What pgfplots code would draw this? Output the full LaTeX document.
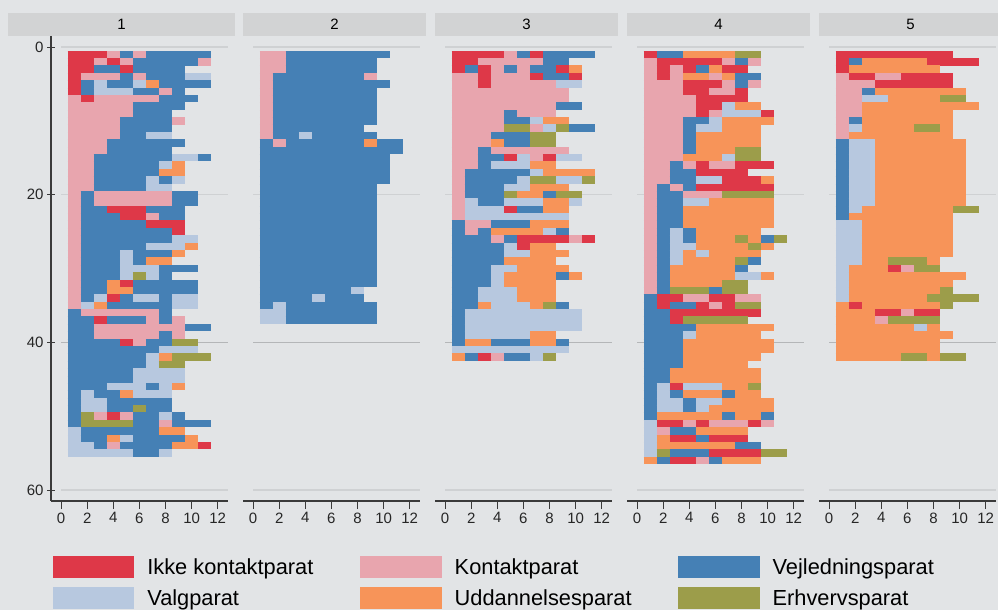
\documentclass[border=0pt]{standalone}
\usepackage{pgfplots}
\usepackage{pgfplotstable}
\usepackage{fontspec}
\setmainfont{Liberation Sans}
\pgfplotsset{compat=1.18}
\definecolor{bgc}{HTML}{E2E4E6}
\definecolor{stripc}{HTML}{D2D3D4}
\definecolor{cI}{HTML}{DE3848}
\definecolor{cK}{HTML}{E8A5AE}
\definecolor{cV}{HTML}{4580B5}
\definecolor{cA}{HTML}{B7C8DF}
\definecolor{cU}{HTML}{F79459}
\definecolor{cE}{HTML}{9C9D4A}
\definecolor{axc}{HTML}{3A3A3A}
\definecolor{gridc}{HTML}{CFD1D3}
\definecolor{gridd}{HTML}{B4B6B8}
\pgfplotstableread[row sep=\\]{
y x u s\\
1 0.5 3 0\\1 3.5 1 1\\1 4.5 1 2\\1 5.5 1 1\\1 6.5 5 2\\
2 0.5 2 0\\2 2.5 1 1\\2 3.5 1 0\\2 4.5 1 1\\2 5.5 5 2\\2 10.5 1 1\\
3 0.5 2 0\\3 2.5 2 2\\3 4.5 1 0\\3 5.5 4 2\\
4 0.5 1 0\\4 1.5 3 1\\4 4.5 1 2\\4 5.5 1 1\\4 6.5 3 2\\4 9.5 2 3\\
5 0.5 1 0\\5 1.5 1 2\\5 2.5 1 3\\5 3.5 2 2\\5 5.5 1 3\\5 6.5 1 4\\5 7.5 4 2\\
6 0.5 1 0\\6 1.5 1 2\\6 2.5 3 3\\6 5.5 2 2\\6 7.5 1 1\\6 8.5 1 2\\
7 0.5 1 1\\7 1.5 1 0\\7 2.5 5 1\\7 7.5 3 2\\
8 0.5 5 1\\8 5.5 4 2\\
9 0.5 5 1\\9 5.5 3 2\\
10 0.5 4 1\\10 4.5 4 2\\10 8.5 1 1\\
11 0.5 4 1\\11 4.5 4 2\\
12 0.5 4 1\\12 4.5 2 2\\12 6.5 2 3\\
13 0.5 3 1\\13 3.5 6 2\\
14 0.5 3 1\\14 3.5 5 2\\
15 0.5 2 1\\15 2.5 6 2\\15 8.5 2 3\\15 10.5 1 2\\
16 0.5 2 1\\16 2.5 5 2\\16 7.5 1 3\\16 8.5 1 4\\
17 0.5 2 1\\17 2.5 5 2\\17 7.5 2 4\\
18 0.5 2 1\\18 2.5 4 2\\18 6.5 1 3\\18 7.5 1 2\\18 8.5 1 3\\
19 0.5 2 1\\19 2.5 4 2\\19 6.5 2 3\\
20 0.5 1 1\\20 1.5 1 2\\20 2.5 6 1\\20 8.5 2 2\\
21 0.5 1 1\\21 1.5 1 2\\21 2.5 6 1\\21 8.5 2 2\\
22 0.5 1 1\\22 1.5 2 2\\22 3.5 3 0\\22 6.5 3 2\\
23 0.5 1 1\\23 1.5 3 2\\23 4.5 2 0\\23 6.5 1 1\\23 7.5 2 2\\
24 0.5 1 1\\24 1.5 5 2\\24 6.5 3 0\\
25 0.5 1 1\\25 1.5 7 2\\25 8.5 1 0\\
26 0.5 1 1\\26 1.5 7 2\\26 8.5 2 3\\
27 0.5 1 1\\27 1.5 5 2\\27 6.5 3 3\\27 9.5 1 4\\
28 0.5 1 1\\28 1.5 3 2\\28 4.5 1 3\\28 5.5 3 2\\28 8.5 1 4\\
29 0.5 1 1\\29 1.5 3 2\\29 4.5 1 3\\29 5.5 1 2\\29 6.5 2 4\\
30 0.5 1 1\\30 1.5 3 2\\30 4.5 3 3\\30 7.5 3 2\\
31 0.5 1 1\\31 1.5 3 2\\31 4.5 1 3\\31 5.5 1 5\\31 6.5 1 3\\31 7.5 1 2\\
32 0.5 1 1\\32 1.5 2 2\\32 3.5 1 4\\32 4.5 1 0\\32 5.5 5 2\\
33 0.5 1 1\\33 1.5 2 2\\33 3.5 2 4\\33 5.5 5 2\\
34 0.5 1 1\\34 1.5 1 2\\34 2.5 1 3\\34 3.5 1 0\\34 4.5 1 2\\34 5.5 2 3\\34 7.5 1 2\\34 8.5 2 3\\
35 0.5 1 1\\35 1.5 1 3\\35 2.5 1 4\\35 3.5 5 2\\35 8.5 2 3\\
36 0.5 1 2\\36 1.5 6 1\\36 7.5 1 2\\
37 0.5 2 2\\37 2.5 1 0\\37 3.5 3 2\\37 6.5 1 1\\37 7.5 1 2\\37 8.5 1 1\\
38 0.5 2 2\\38 2.5 7 1\\38 9.5 2 2\\
39 0.5 2 2\\39 2.5 5 1\\39 7.5 1 2\\39 8.5 1 1\\
40 0.5 4 2\\40 4.5 1 0\\40 5.5 1 1\\40 6.5 2 2\\40 8.5 2 5\\
41 0.5 7 2\\41 7.5 3 3\\
42 0.5 6 2\\42 6.5 1 3\\42 7.5 1 4\\42 8.5 3 5\\
43 0.5 6 2\\43 6.5 1 3\\43 7.5 2 5\\
44 0.5 5 2\\44 5.5 4 3\\
45 0.5 5 2\\45 5.5 4 3\\
46 0.5 3 2\\46 3.5 3 3\\46 6.5 1 2\\46 7.5 1 3\\46 8.5 1 4\\
47 0.5 1 2\\47 1.5 1 3\\47 2.5 2 2\\47 4.5 1 4\\47 5.5 3 3\\
48 0.5 1 2\\48 1.5 2 3\\48 3.5 5 2\\
49 0.5 1 2\\49 1.5 2 3\\49 3.5 2 2\\49 5.5 1 5\\49 6.5 2 2\\
50 0.5 1 2\\50 1.5 1 5\\50 2.5 1 1\\50 3.5 1 0\\50 4.5 1 1\\50 5.5 2 2\\50 7.5 1 3\\50 8.5 1 2\\
51 0.5 1 2\\51 1.5 4 5\\51 5.5 2 2\\51 7.5 1 1\\51 8.5 3 2\\
52 0.5 1 3\\52 1.5 6 2\\52 7.5 2 4\\
53 0.5 1 3\\53 1.5 2 2\\53 3.5 1 4\\53 4.5 1 3\\53 5.5 4 2\\53 9.5 1 4\\
54 0.5 2 3\\54 2.5 1 2\\54 3.5 1 1\\54 4.5 4 2\\54 8.5 2 4\\54 10.5 1 0\\
55 0.5 5 3\\55 5.5 2 2\\55 7.5 1 3\\
}\tabA
\pgfplotstableread[row sep=\\]{
y x u s\\
1 0.5 2 1\\1 2.5 8 2\\
2 0.5 2 1\\2 2.5 7 2\\
3 0.5 2 1\\3 2.5 7 2\\
4 0.5 1 1\\4 1.5 7 2\\4 8.5 1 1\\
5 0.5 1 1\\5 1.5 9 2\\
6 0.5 1 1\\6 1.5 8 2\\
7 0.5 1 1\\7 1.5 8 2\\
8 0.5 1 1\\8 1.5 8 2\\
9 0.5 1 1\\9 1.5 8 2\\
10 0.5 1 1\\10 1.5 8 2\\
11 0.5 1 1\\11 1.5 7 2\\
12 0.5 1 1\\12 1.5 2 2\\12 3.5 1 3\\12 4.5 5 2\\
13 0.5 1 2\\13 1.5 1 1\\13 2.5 6 2\\13 8.5 1 4\\13 9.5 2 2\\
14 0.5 11 2\\
15 0.5 10 2\\16 0.5 10 2\\17 0.5 10 2\\18 0.5 10 2\\
19 0.5 9 2\\20 0.5 9 2\\21 0.5 9 2\\22 0.5 9 2\\23 0.5 9 2\\24 0.5 9 2\\25 0.5 9 2\\26 0.5 9 2\\27 0.5 9 2\\28 0.5 9 2\\29 0.5 9 2\\30 0.5 9 2\\31 0.5 9 2\\32 0.5 9 2\\
33 0.5 7 2\\33 7.5 1 3\\
34 0.5 4 2\\34 4.5 1 3\\34 5.5 3 2\\
35 0.5 1 2\\35 1.5 1 3\\35 2.5 7 2\\
36 0.5 2 3\\36 2.5 7 2\\
37 0.5 2 3\\37 2.5 7 2\\
}\tabB
\pgfplotstableread[row sep=\\]{
y x u s\\
1 0.5 4 0\\1 4.5 1 1\\1 5.5 1 2\\1 6.5 1 0\\1 7.5 4 2\\
2 0.5 2 0\\2 2.5 5 1\\2 7.5 2 2\\
3 0.5 1 0\\3 1.5 1 2\\3 2.5 1 0\\3 3.5 1 1\\3 4.5 1 2\\3 5.5 1 1\\3 6.5 2 2\\3 8.5 1 0\\3 9.5 1 4\\
4 0.5 2 1\\4 2.5 1 0\\4 3.5 3 1\\4 6.5 1 0\\4 7.5 2 2\\4 9.5 1 0\\
5 0.5 2 1\\5 2.5 1 0\\5 3.5 5 1\\5 8.5 2 3\\
6 0.5 9 1\\
7 0.5 9 1\\
8 0.5 8 1\\8 8.5 2 2\\
9 0.5 4 1\\9 4.5 1 2\\9 5.5 3 1\\
10 0.5 4 1\\10 4.5 2 2\\10 6.5 1 3\\10 7.5 2 4\\
11 0.5 4 1\\11 4.5 2 5\\11 6.5 1 1\\11 7.5 1 3\\11 8.5 1 5\\11 9.5 2 2\\
12 0.5 3 1\\12 3.5 3 2\\12 6.5 2 5\\
13 0.5 3 1\\13 3.5 1 4\\13 4.5 2 2\\13 6.5 2 5\\
14 0.5 2 1\\14 2.5 1 2\\14 3.5 6 1\\
15 0.5 2 1\\15 2.5 2 2\\15 4.5 1 0\\15 5.5 1 3\\15 6.5 1 1\\15 7.5 1 0\\15 8.5 2 3\\
16 0.5 2 1\\16 2.5 1 2\\16 3.5 3 3\\16 6.5 2 4\\
17 0.5 1 1\\17 1.5 5 2\\17 6.5 1 3\\17 7.5 4 4\\
18 0.5 1 1\\18 1.5 4 2\\18 5.5 1 3\\18 6.5 2 5\\18 8.5 2 3\\18 10.5 1 5\\
19 0.5 1 1\\19 1.5 3 2\\19 4.5 2 3\\19 6.5 3 4\\
20 0.5 1 1\\20 1.5 3 2\\20 4.5 1 5\\20 5.5 2 4\\20 7.5 1 2\\20 8.5 2 5\\
21 0.5 1 1\\21 1.5 1 3\\21 2.5 2 2\\21 4.5 3 3\\21 7.5 2 4\\21 9.5 1 3\\
22 0.5 1 1\\22 1.5 3 3\\22 4.5 1 0\\22 5.5 2 2\\22 7.5 2 4\\
23 0.5 1 1\\23 1.5 8 3\\
24 0.5 1 2\\24 1.5 2 1\\24 3.5 3 2\\24 6.5 3 4\\
25 0.5 1 2\\25 1.5 1 1\\25 2.5 1 2\\25 3.5 4 4\\25 7.5 1 3\\25 8.5 1 2\\
26 0.5 3 2\\26 3.5 1 1\\26 4.5 1 2\\26 5.5 4 0\\26 9.5 1 1\\26 10.5 1 0\\
27 0.5 4 2\\27 4.5 1 3\\27 5.5 1 0\\27 6.5 2 4\\
28 0.5 4 2\\28 4.5 2 3\\28 6.5 3 4\\
29 0.5 4 2\\29 4.5 4 4\\
30 0.5 3 2\\30 3.5 2 3\\30 5.5 4 4\\
31 0.5 3 2\\31 3.5 1 3\\31 4.5 4 4\\31 8.5 1 2\\31 9.5 1 4\\
32 0.5 3 2\\32 3.5 1 3\\32 4.5 4 4\\
33 0.5 2 2\\33 2.5 3 3\\33 5.5 3 4\\
34 0.5 2 2\\34 2.5 3 3\\34 5.5 3 4\\
35 0.5 2 2\\35 2.5 1 4\\35 3.5 3 3\\35 6.5 1 4\\35 7.5 1 5\\35 8.5 1 2\\
36 0.5 1 2\\36 1.5 9 3\\
37 0.5 1 2\\37 1.5 9 3\\
38 0.5 1 2\\38 1.5 9 3\\
39 0.5 1 2\\39 1.5 5 3\\39 6.5 2 4\\
40 0.5 1 2\\40 1.5 2 4\\40 3.5 3 2\\40 6.5 2 4\\40 8.5 1 2\\
41 0.5 9 3\\
42 0.5 1 4\\42 1.5 1 2\\42 2.5 1 0\\42 3.5 1 1\\42 4.5 2 2\\42 6.5 1 3\\42 7.5 1 5\\
}\tabC
\pgfplotstableread[row sep=\\]{
y x u s\\
1 0.5 1 0\\1 1.5 2 2\\1 3.5 4 4\\1 7.5 2 5\\
2 0.5 1 1\\2 1.5 5 0\\2 6.5 1 1\\2 7.5 1 2\\2 8.5 1 1\\
3 0.5 1 1\\3 1.5 1 0\\3 2.5 1 1\\3 3.5 1 0\\3 4.5 1 2\\3 5.5 1 4\\3 6.5 2 0\\
4 0.5 1 1\\4 1.5 1 0\\4 2.5 1 1\\4 3.5 2 4\\4 5.5 1 1\\4 6.5 1 4\\4 7.5 2 2\\
5 0.5 3 1\\5 3.5 3 0\\5 6.5 1 1\\5 7.5 1 2\\5 8.5 1 1\\
6 0.5 3 1\\6 3.5 2 0\\6 5.5 2 1\\6 7.5 1 0\\
7 0.5 4 1\\7 4.5 4 0\\
8 0.5 4 1\\8 4.5 2 0\\8 6.5 1 3\\8 7.5 2 4\\
9 0.5 4 1\\9 4.5 1 0\\9 5.5 1 1\\9 6.5 3 3\\9 9.5 1 0\\
10 0.5 3 1\\10 3.5 2 2\\10 5.5 1 3\\10 6.5 4 4\\
11 0.5 3 1\\11 3.5 1 2\\11 4.5 2 3\\11 6.5 3 4\\
12 0.5 3 1\\12 3.5 1 2\\12 4.5 5 4\\
13 0.5 3 1\\13 3.5 1 2\\13 4.5 5 4\\
14 0.5 3 1\\14 3.5 1 2\\14 4.5 3 4\\14 7.5 2 5\\
15 0.5 3 1\\15 3.5 3 4\\15 6.5 1 3\\15 7.5 2 5\\
16 0.5 2 1\\16 2.5 1 2\\16 3.5 1 1\\16 4.5 1 0\\16 5.5 2 1\\16 7.5 3 0\\
17 0.5 2 1\\17 2.5 2 2\\17 4.5 4 0\\
18 0.5 2 1\\18 2.5 2 2\\18 4.5 2 3\\18 6.5 3 0\\18 9.5 1 4\\
19 0.5 1 1\\19 1.5 1 2\\19 2.5 1 1\\19 3.5 1 2\\19 4.5 6 0\\
20 0.5 1 1\\20 1.5 2 2\\20 3.5 3 1\\20 6.5 4 5\\
21 0.5 1 1\\21 1.5 2 2\\21 3.5 2 3\\21 5.5 5 4\\
22 0.5 1 1\\22 1.5 2 2\\22 3.5 7 4\\
23 0.5 1 1\\23 1.5 2 2\\23 3.5 7 4\\
24 0.5 1 1\\24 1.5 2 2\\24 3.5 7 4\\
25 0.5 1 1\\25 1.5 1 2\\25 2.5 1 3\\25 3.5 1 2\\25 4.5 5 4\\
26 0.5 1 1\\26 1.5 1 2\\26 2.5 1 3\\26 3.5 1 2\\26 4.5 3 4\\26 7.5 1 5\\26 8.5 1 4\\26 9.5 1 2\\26 10.5 1 5\\
27 0.5 1 1\\27 1.5 1 2\\27 2.5 2 3\\27 4.5 4 4\\27 8.5 1 5\\27 9.5 1 4\\
28 0.5 1 1\\28 1.5 1 2\\28 2.5 1 3\\28 3.5 1 4\\28 4.5 1 3\\28 5.5 4 4\\
29 0.5 1 1\\29 1.5 1 2\\29 2.5 1 3\\29 3.5 4 4\\29 7.5 1 5\\29 8.5 1 2\\
30 0.5 1 1\\30 1.5 1 2\\30 2.5 5 4\\30 7.5 1 2\\
31 0.5 1 1\\31 1.5 1 2\\31 2.5 5 4\\31 7.5 2 3\\31 9.5 1 4\\
32 0.5 1 1\\32 1.5 1 2\\32 2.5 4 4\\32 6.5 2 5\\
33 0.5 1 1\\33 1.5 1 2\\33 2.5 3 5\\33 5.5 1 2\\33 6.5 2 5\\
34 0.5 1 2\\34 1.5 2 0\\34 3.5 2 1\\34 5.5 2 0\\34 7.5 2 1\\
35 0.5 1 2\\35 1.5 1 0\\35 2.5 2 2\\35 4.5 1 0\\35 5.5 1 1\\35 6.5 1 0\\35 7.5 2 5\\
36 0.5 2 2\\36 2.5 7 0\\
37 0.5 2 2\\37 2.5 1 0\\37 3.5 5 5\\
38 0.5 4 2\\38 4.5 6 4\\
39 0.5 3 2\\39 3.5 1 3\\39 4.5 5 4\\
40 0.5 3 2\\40 3.5 7 4\\
41 0.5 3 2\\41 3.5 7 4\\
42 0.5 3 2\\42 3.5 6 4\\
43 0.5 3 2\\43 3.5 5 4\\
44 0.5 2 2\\44 2.5 7 4\\
45 0.5 2 2\\45 2.5 7 4\\
46 0.5 1 2\\46 1.5 1 3\\46 2.5 1 0\\46 3.5 3 3\\46 6.5 2 4\\46 8.5 1 5\\
47 0.5 1 2\\47 1.5 1 3\\47 2.5 1 2\\47 3.5 3 4\\47 6.5 1 2\\47 7.5 2 4\\
48 0.5 1 2\\48 1.5 2 3\\48 3.5 1 2\\48 4.5 2 3\\48 6.5 4 4\\
49 0.5 1 2\\49 1.5 2 3\\49 3.5 1 2\\49 4.5 1 3\\49 5.5 5 4\\
50 0.5 1 2\\50 1.5 5 4\\50 6.5 1 2\\50 7.5 2 4\\50 9.5 1 2\\
51 0.5 1 3\\51 1.5 2 0\\51 3.5 1 1\\51 4.5 1 0\\51 5.5 3 1\\51 8.5 1 0\\51 9.5 1 1\\
52 0.5 1 3\\52 1.5 1 1\\52 2.5 2 2\\52 4.5 4 4\\
53 0.5 1 3\\53 1.5 1 4\\53 2.5 2 0\\53 4.5 1 2\\53 5.5 3 0\\
54 0.5 1 3\\54 1.5 6 4\\54 7.5 2 2\\
55 0.5 1 3\\55 1.5 1 5\\55 2.5 3 2\\55 5.5 4 0\\55 9.5 2 5\\
56 0.5 1 4\\56 1.5 1 2\\56 2.5 2 0\\56 4.5 1 1\\56 5.5 1 2\\56 6.5 3 4\\
}\tabD
\pgfplotstableread[row sep=\\]{
y x u s\\
1 0.5 9 0\\
2 0.5 1 0\\2 1.5 1 2\\2 2.5 5 4\\2 7.5 4 0\\
3 0.5 1 0\\3 1.5 7 4\\
4 0.5 1 1\\4 1.5 2 0\\4 3.5 2 1\\4 5.5 4 0\\
5 0.5 3 1\\5 3.5 6 0\\
6 0.5 2 1\\6 2.5 1 2\\6 3.5 7 4\\
7 0.5 2 1\\7 2.5 2 3\\7 4.5 4 4\\7 8.5 2 5\\
8 0.5 2 1\\8 2.5 9 4\\
9 0.5 2 1\\9 2.5 7 4\\
10 0.5 1 1\\10 1.5 1 2\\10 2.5 7 4\\
11 0.5 1 1\\11 1.5 1 3\\11 2.5 4 4\\11 6.5 2 5\\11 8.5 1 4\\
12 0.5 1 1\\12 1.5 8 4\\
13 0.5 1 2\\13 1.5 2 3\\13 3.5 7 4\\
14 0.5 1 2\\14 1.5 2 3\\14 3.5 7 4\\
15 0.5 1 2\\15 1.5 2 3\\15 3.5 7 4\\
16 0.5 1 2\\16 1.5 2 3\\16 3.5 7 4\\
17 0.5 1 2\\17 1.5 2 3\\17 3.5 7 4\\
18 0.5 1 2\\18 1.5 2 3\\18 3.5 7 4\\
19 0.5 1 2\\19 1.5 2 3\\19 3.5 7 4\\
20 0.5 1 2\\20 1.5 2 3\\20 3.5 7 4\\
21 0.5 1 2\\21 1.5 2 3\\21 3.5 7 4\\
22 0.5 1 2\\22 1.5 1 3\\22 2.5 7 4\\22 9.5 2 5\\
23 0.5 1 2\\23 1.5 8 4\\
24 0.5 2 3\\24 2.5 7 4\\
25 0.5 2 3\\25 2.5 7 4\\
26 0.5 2 3\\26 2.5 7 4\\
27 0.5 2 3\\27 2.5 7 4\\
28 0.5 2 3\\28 2.5 7 4\\
29 0.5 2 3\\29 2.5 2 4\\29 4.5 3 5\\29 7.5 1 4\\
30 0.5 1 3\\30 1.5 3 4\\30 4.5 1 0\\30 5.5 1 1\\30 6.5 2 5\\
31 0.5 1 3\\31 1.5 9 4\\
32 0.5 1 3\\32 1.5 8 4\\
33 0.5 1 3\\33 1.5 7 4\\33 8.5 1 5\\
34 0.5 1 3\\34 1.5 6 4\\34 7.5 4 5\\
35 0.5 1 4\\35 1.5 1 0\\35 2.5 6 4\\35 8.5 1 5\\
36 0.5 3 4\\36 3.5 2 0\\36 5.5 1 1\\36 6.5 2 0\\
37 0.5 3 4\\37 3.5 1 1\\37 4.5 4 5\\
38 0.5 6 4\\38 6.5 1 3\\38 7.5 1 4\\
39 0.5 9 4\\
40 0.5 8 4\\
41 0.5 8 4\\
42 0.5 5 4\\42 5.5 2 5\\42 7.5 1 4\\42 8.5 2 5\\
}\tabE
\pgfplotsset{
  tick label style={font=\fontsize{15}{17}\selectfont, color=black!85},
  /pgf/number format/assume math mode=true,
  panel/.style={
    scale only axis, width=177pt, height=465pt,
    xmin=-0.775, xmax=12.79, ymin=-1.49, ymax=61.49, y dir=reverse,
    anchor=south west, clip=true,
    xtick={0,2,...,12}, ytick={0,20,40,60},
    axis x line=bottom, x axis line style={-, draw=axc, line width=1.1pt},
    tick align=outside, major tick length=8pt,
    tick style={draw=axc, line width=0.9pt},
    point meta min=0, point meta max=5,
    colormap={st}{color=(cI) color=(cK) color=(cV) color=(cA) color=(cU) color=(cE)},
  },
  seq/.style={
    point meta=explicit,
    quiver={u=\thisrow{u}, v=0, colored=mapped color,
      every arrow/.append style={-, line width=7.5pt, line cap=butt}},
  },
  swatch/.style={legend image code/.code={\fill[#1] (0pt,-10.5pt) rectangle (80.5pt,10.5pt); \path (92pt,0pt);}},
}
\newcommand{\panelbody}[1]{%
  \addplot[draw=gridc, line width=1.5pt, forget plot] coordinates {(0,0)(12.79,0)};
  \addplot[draw=gridc, line width=1.5pt, forget plot] coordinates {(0,20)(12.79,20)};
  \addplot[draw=gridd, line width=0.9pt, forget plot] coordinates {(0,40)(12.79,40)};
  \addplot[draw=gridc, line width=1.5pt, forget plot] coordinates {(0,60)(12.79,60)};
  \addplot[seq, forget plot] table[x=x, y=y, meta=s] {#1};
}
\newcommand{\lgtext}[2]{\makebox[#1][l]{\raisebox{-2pt}{#2}}}
\begin{document}
\begin{tikzpicture}[x=1pt,y=1pt]
\path[use as bounding box, fill=bgc] (0,0) rectangle (998,610);
\fill[stripc] (8,574) rectangle (235,597);
\fill[stripc] (243,574) rectangle (426,597);
\fill[stripc] (435,574) rectangle (618,597);
\fill[stripc] (627,574) rectangle (810,597);
\fill[stripc] (819,574) rectangle (998,597);
\node[font=\fontsize{15}{17}\selectfont] at (121.5,585.5) {1};
\node[font=\fontsize{15}{17}\selectfont] at (334.5,585.5) {2};
\node[font=\fontsize{15}{17}\selectfont] at (526.5,585.5) {3};
\node[font=\fontsize{15}{17}\selectfont] at (718.5,585.5) {4};
\node[font=\fontsize{15}{17}\selectfont] at (910.5,585.5) {5};
\begin{axis}[panel, at={(51pt,109pt)},
  axis y line=left, y axis line style={-, draw=axc, line width=1.1pt},
  legend columns=3,
  legend cell align=left,
  legend style={draw=none, fill=none, at={(0.011,-0.118)}, anchor=north west,
    font=\fontsize{21.8}{24}\selectfont, inner sep=0pt, outer sep=0pt,
    row sep=9.5pt,
    /tikz/every even column/.style={column sep=0pt}},
]
\panelbody{\tabA}
\addlegendimage{swatch=cI}\addlegendentry{\lgtext{211pt}{Ikke kontaktparat}}
\addlegendimage{swatch=cK}\addlegendentry{\lgtext{221.5pt}{Kontaktparat}}
\addlegendimage{swatch=cV}\addlegendentry{\raisebox{-2pt}{Vejledningsparat}}
\addlegendimage{swatch=cA}\addlegendentry{\lgtext{211pt}{Valgparat}}
\addlegendimage{swatch=cU}\addlegendentry{\lgtext{221.5pt}{Uddannelsesparat}}
\addlegendimage{swatch=cE}\addlegendentry{\raisebox{-2pt}{Erhvervsparat}}
\end{axis}
\begin{axis}[panel, at={(243pt,109pt)}, axis y line=none]
\panelbody{\tabB}
\end{axis}
\begin{axis}[panel, at={(435pt,109pt)}, axis y line=none]
\panelbody{\tabC}
\end{axis}
\begin{axis}[panel, at={(627pt,109pt)}, axis y line=none]
\panelbody{\tabD}
\end{axis}
\begin{axis}[panel, at={(819pt,109pt)}, axis y line=none]
\panelbody{\tabE}
\end{axis}
\end{tikzpicture}
\end{document}
